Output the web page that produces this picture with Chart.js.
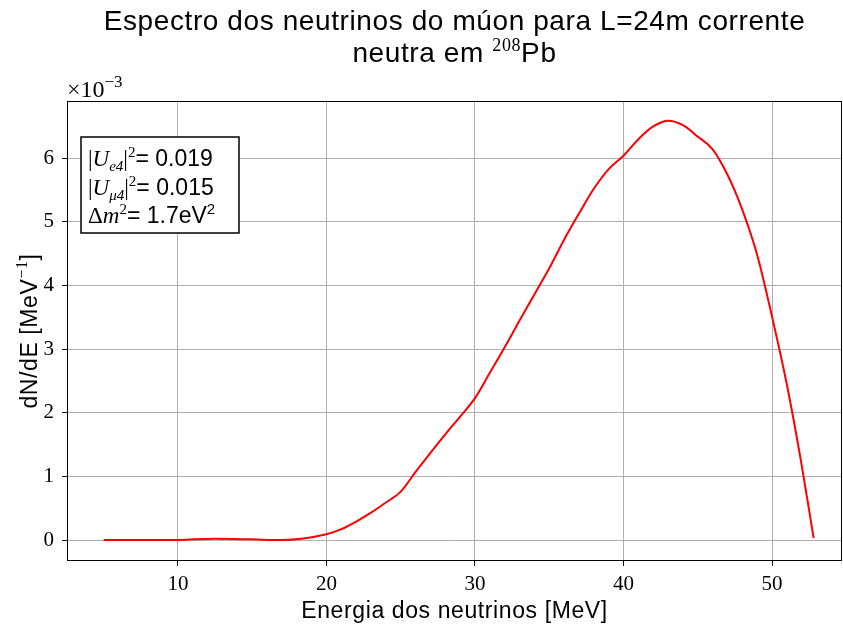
<!DOCTYPE html>
<html>
<head>
<meta charset="utf-8">
<script src="https://cdn.jsdelivr.net/npm/chart.js@4"></script>
<style>
  html,body{margin:0;padding:0;background:#fff;}
  #wrap{width:843px;height:630px;}
</style>
</head>
<body>
<div id="wrap"><canvas id="c" width="843" height="630"></canvas></div>
<script>
// energia (MeV) e espectro dN/dE (x 1e-3 MeV^-1)
const energy = [5, 7.5, 10, 12.5, 15, 17, 20, 21, 22, 23, 24, 25, 26, 27, 28, 29, 30,
  31, 32, 33, 34, 35, 36, 37, 38, 39, 40, 41, 42, 43, 44, 45, 46, 47, 48, 49, 50, 51, 52, 52.8];
const dNdE = [0, 0, 0.002, 0.02, 0.01, 0, 0.09, 0.17, 0.29, 0.43, 0.59, 0.76, 1.07, 1.37, 1.66, 1.94, 2.23,
  2.63, 3.03, 3.45, 3.86, 4.27, 4.72, 5.13, 5.52, 5.83, 6.04, 6.30, 6.50, 6.59, 6.52, 6.34, 6.14, 5.74, 5.19, 4.48, 3.51, 2.44, 1.17, 0.03];
const xTicks = [10, 20, 30, 40, 50];
const yTicks = [0, 1, 2, 3, 4, 5, 6];

const SANS = '"Liberation Sans", Arial, sans-serif';
const SERIF = '"Liberation Serif", "Times New Roman", serif';

// pedaços de texto: [texto, fonte, deslocamento vertical]
function drawRuns(ctx, runs, x, y, align, spacing){
  ctx.letterSpacing = (spacing || 0) + 'px';
  let w = 0;
  runs.forEach(r => { ctx.font = r[1]; w += ctx.measureText(r[0]).width; });
  let cx = align === 'center' ? x - w/2 : x;
  ctx.textAlign = 'left';
  ctx.textBaseline = 'alphabetic';
  runs.forEach(r => {
    ctx.font = r[1];
    ctx.fillText(r[0], cx, y + (r[2]||0));
    cx += ctx.measureText(r[0]).width;
  });
  ctx.letterSpacing = '0px';
}

const decor = {
  id: 'decor',
  afterDraw(chart){
    const {ctx, chartArea:a} = chart;
    ctx.save();
    ctx.fillStyle = '#000';
    // titulo
    const mid = (a.left + a.right)/2;
    drawRuns(ctx, [['Espectro dos neutrinos do múon para L=24m corrente', '28px '+SANS]], mid, 30, 'center', 0.6);
    drawRuns(ctx, [['neutra em ', '28px '+SANS], ['208', '18px '+SERIF, -11], ['Pb', '28px '+SANS]], mid, 62, 'center', 0.6);
    // multiplicador
    drawRuns(ctx, [['×10', '24px '+SERIF], ['−3', '17px '+SERIF, -10]], a.left, 97, 'left');
    // titulos dos eixos
    drawRuns(ctx, [['Energia dos neutrinos [MeV]', '23px '+SANS]], mid, 618, 'center', 0.6);
    ctx.save();
    ctx.translate(37, (a.top + a.bottom)/2);
    ctx.rotate(-Math.PI/2);
    drawRuns(ctx, [['dN/dE [MeV', '23px '+SANS], ['−1', '16px '+SERIF, -10], [']', '23px '+SANS]], 0, 0, 'center', 0.6);
    ctx.restore();
    // caixa de texto
    const bx = 81, by = 137, bw = 158, bh = 96;
    ctx.fillStyle = '#fff';
    ctx.fillRect(bx, by, bw, bh);
    ctx.strokeStyle = '#000';
    ctx.lineWidth = 1.5;
    ctx.strokeRect(bx, by, bw, bh);
    ctx.fillStyle = '#000';
    const it = 'italic 23px '+SERIF, rm = '23px '+SERIF, sub = 'italic 15px '+SERIF, sup = '15px '+SERIF, sn = '23px '+SANS;
    drawRuns(ctx, [['|', rm], ['U', it], ['e4', sub, 5], ['|', rm], ['2', sup, -9], ['= 0.019', sn]], 88, 166);
    drawRuns(ctx, [['|', rm], ['U', it], ['μ4', sub, 5], ['|', rm], ['2', sup, -9], ['= 0.015', sn]], 88, 195);
    drawRuns(ctx, [['Δ', rm], ['m', it], ['2', sup, -9], ['= 1.7eV', sn], ['2', '15px '+SANS, -9]], 88, 223);
    // moldura
    ctx.strokeStyle = '#000';
    ctx.lineWidth = 1;
    ctx.strokeRect(a.left + 0.5, a.top + 0.5, a.right - a.left - 1, a.bottom - a.top - 1);
    ctx.restore();
  }
};

new Chart(document.getElementById('c'), {
  type: 'line',
  data: {
    datasets: [{
      data: energy.map((e, i) => ({x: e, y: dNdE[i]})),
      borderColor: '#ff0000',
      borderWidth: 2,
      pointRadius: 0,
      fill: false,
      cubicInterpolationMode: 'monotone'
    }]
  },
  options: {
    responsive: false,
    animation: false,
    layout: {padding: {top: 101, right: 1, left: 0, bottom: 0}},
    plugins: {legend: {display: false}, tooltip: {enabled: false}},
    scales: {
      x: {
        type: 'linear',
        min: 2.53, max: 54.71,
        afterFit: s => { s.height = 69; },
        afterBuildTicks: s => { s.ticks = xTicks.map(v => ({value: v})); },
        grid: {color: '#b0b0b0', lineWidth: 1, tickColor: '#000', tickLength: 5, drawTicks: true},
        border: {display: false},
        ticks: {color: '#000', font: {family: SERIF, size: 21}, padding: 6, maxRotation: 0, autoSkip: false}
      },
      y: {
        min: -0.33, max: 6.9,
        afterFit: s => { s.width = 67; },
        afterBuildTicks: s => { s.ticks = yTicks.map(v => ({value: v})); },
        grid: {color: '#b0b0b0', lineWidth: 1, tickColor: '#000', tickLength: 5, drawTicks: true},
        border: {display: false},
        ticks: {color: '#000', font: {family: SERIF, size: 21}, padding: 8, autoSkip: false}
      }
    }
  },
  plugins: [decor]
});
</script>
</body>
</html>
